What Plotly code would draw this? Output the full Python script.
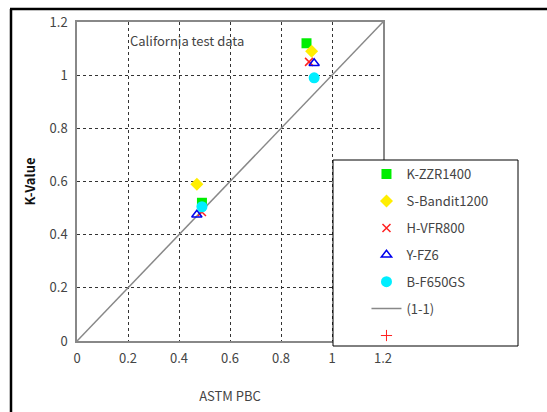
import plotly.graph_objects as go

# Data
series_names = ["K-ZZR1400", "S-Bandit1200", "H-VFR800", "Y-FZ6", "B-F650GS"]
k_x = [0.90, 0.49]
k_y = [1.12, 0.52]
s_x = [0.92, 0.47]
s_y = [1.09, 0.59]
h_x = [0.91, 0.49]
h_y = [1.05, 0.485]
y_x = [0.93, 0.47]
y_y = [1.045, 0.475]
b_x = [0.93, 0.49]
b_y = [0.99, 0.505]
line_x = [0, 1.2]
line_y = [0, 1.2]
# empty series shown only in the legend (its point lies outside the axes)
empty_x = [1.5]
empty_y = [1.5]
tick_vals = [0, 0.2, 0.4, 0.6, 0.8, 1.0, 1.2]
tick_text = ["0", "0.2", "0.4", "0.6", "0.8", "1", "1.2"]

FONT = "Noto Sans CJK JP"

fig = go.Figure()
fig.add_trace(go.Scatter(x=line_x, y=line_y, mode="lines", name="(1-1)",
                         line=dict(color="#888888", width=1.5), legendgroup="5",
                         legendrank=6))
styles = [
    dict(symbol="square", color="#00ee00", size=10),
    dict(symbol="diamond", color="#ffee00", size=10),
    dict(symbol="x-thin", color="#ff2020", size=8),
    dict(symbol="triangle-up-open", color="#0000ee", size=9),
    dict(symbol="circle", color="#00eeff", size=11),
]
data = [(k_x, k_y), (s_x, s_y), (h_x, h_y), (y_x, y_y), (b_x, b_y)]
for i, (name, (xs, ys), st) in enumerate(zip(series_names, data, styles)):
    marker = dict(symbol=st["symbol"], color=st["color"], size=st["size"])
    if st["symbol"] in ("x-thin", "triangle-up-open"):
        marker["line"] = dict(color=st["color"], width=1.5)
    fig.add_trace(go.Scatter(x=xs, y=ys, mode="markers", name=name,
                             marker=marker, legendgroup=str(i), legendrank=i + 1))

fig.add_trace(go.Scatter(x=empty_x, y=empty_y, mode="markers", name=" ",
                         cliponaxis=True,
                         marker=dict(symbol="cross-thin", color="#ff2020", size=8,
                                     line=dict(color="#ff2020", width=1)),
                         legendgroup="6", legendrank=7))

axis_common = dict(
    range=[0, 1.2], tickvals=tick_vals, ticktext=tick_text, automargin=False,
    showgrid=True, gridcolor="#333333", griddash="dot", gridwidth=1,
    zeroline=False, showline=True, linecolor="#888888", linewidth=1.5,
    mirror=True, ticks="", tickfont=dict(family=FONT, size=13, color="#444444"),
    ticklabelstandoff=5,
)

fig.update_layout(
    width=547, height=412,
    margin=dict(l=77, r=164, t=22, b=71, autoexpand=False),
    paper_bgcolor="white", plot_bgcolor="white",
    showlegend=True,
    xaxis=dict(**axis_common,
               title=dict(text="ASTM PBC", font=dict(family=FONT, size=13, color="#444444"),
                          standoff=26)),
    yaxis=dict(**axis_common,
               title=dict(text="<b>K-Value</b>", font=dict(family=FONT, size=13, color="#111111"),
                          standoff=11)),
    legend=dict(x=0.946, y=0.57, xanchor="left", yanchor="top",
                bgcolor="rgba(0,0,0,0)", borderwidth=0,
                traceorder="grouped", tracegroupgap=7,
                font=dict(family=FONT, size=13, color="#444444")),
)

# legend box
fig.add_shape(type="rect", xref="paper", yref="paper",
              x0=(333 - 77) / 306, x1=(518 - 77) / 306,
              y0=(341 - 346) / 319, y1=(341 - 160) / 319,
              line=dict(color="black", width=1), fillcolor="white", layer="above")
# outer frame (left and top edges)
fig.add_shape(type="line", xref="paper", yref="paper",
              x0=(11 - 77) / 306, x1=(11 - 77) / 306, y0=-0.3, y1=(341 - 9) / 319,
              line=dict(color="black", width=2.5))
fig.add_shape(type="line", xref="paper", yref="paper",
              x0=(10 - 77) / 306, x1=1.7, y0=(341 - 9) / 319, y1=(341 - 9) / 319,
              line=dict(color="black", width=2.5))

fig.add_annotation(x=0.2, y=1.13, xref="x", yref="y", text="California test data",
                   showarrow=False, xanchor="left",
                   font=dict(family=FONT, size=13, color="#444444"))

fig.write_html("out.html", config={"displayModeBar": False},
               post_script="document.body.style.margin='0';")
